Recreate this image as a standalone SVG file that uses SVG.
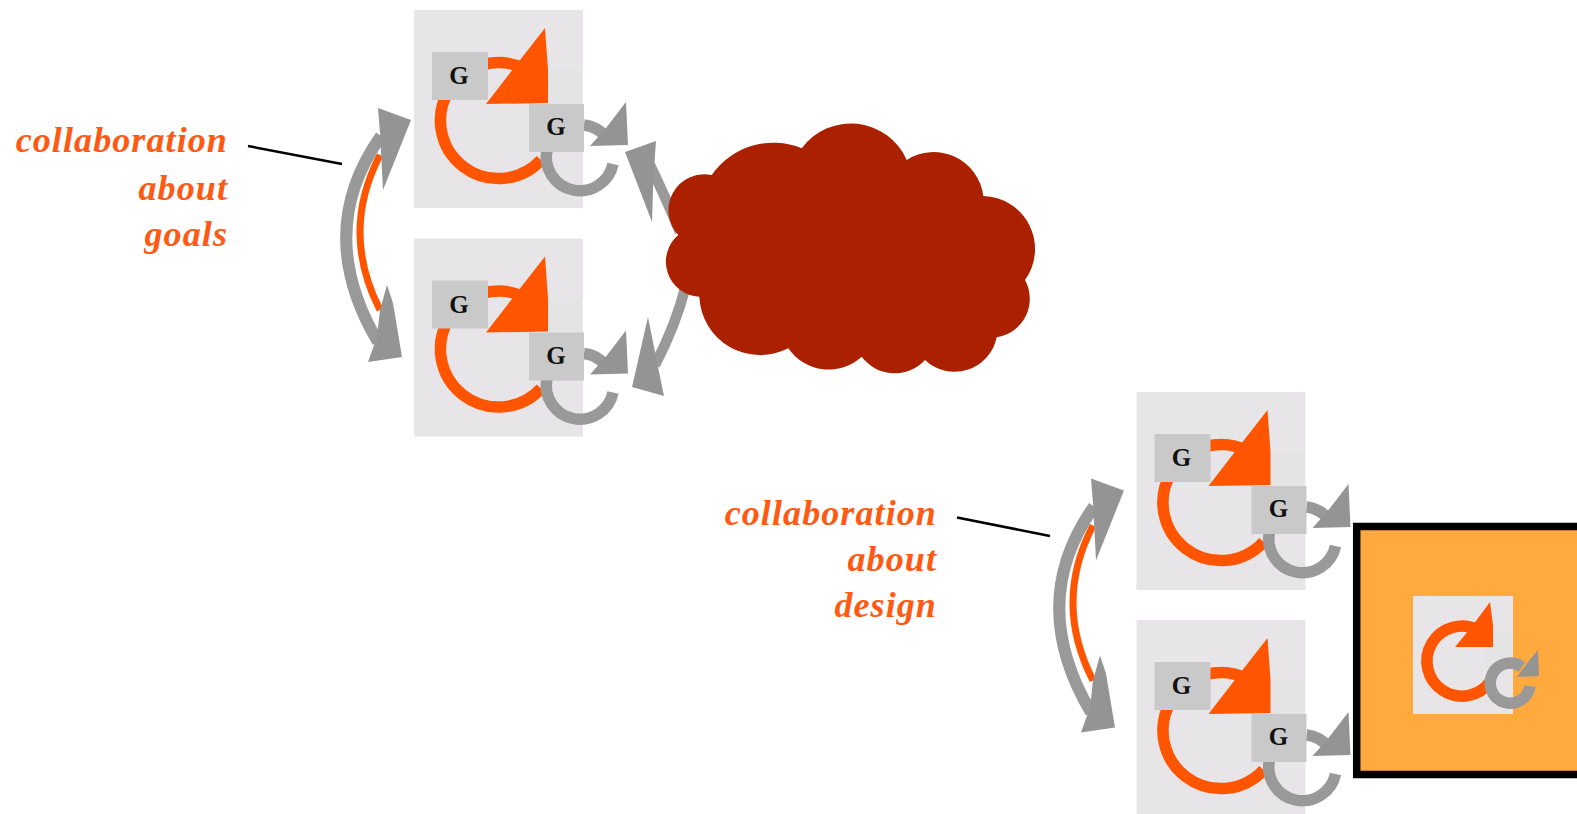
<svg xmlns="http://www.w3.org/2000/svg" width="1577" height="814" viewBox="0 0 1577 814">
<defs><style>
.panel{fill:#e8e5e9}.ghost{fill:#e4e4e4}.gbox{fill:#c9c9c9}
.oa{fill:none;stroke:#ff5500;stroke-width:11.5}.ga{fill:none;stroke:#999;stroke-width:11.5}
.oh{fill:#ff5500}.gh{fill:#949494}
.g{font:bold 25px "Liberation Serif",serif;fill:#111;text-anchor:middle}
.lab{font:italic bold 36px "Liberation Serif",serif;letter-spacing:1.1px;fill:#ff5a14;text-anchor:end}
.arc{fill:none;stroke:#999;stroke-width:12}.arc2{fill:none;stroke:#ff5500;stroke-width:7}
.arc3{fill:none;stroke:#999;stroke-width:10.5}
.ln{stroke:#000;stroke-width:2.5}
</style></defs>
<rect width="1577" height="814" fill="#fff"/>
<g id="box"><rect x="1356.7" y="526.5" width="230" height="248" fill="#ffa93e" stroke="#000" stroke-width="7.5"/></g>
<g id="connectors">
<path class="arc" d="M381 136Q313 232 378 342"/><path class="arc2" d="M380 155Q340 232 380 310"/>
<polygon class="gh" points="378,108 411,120 383,190 380,133"/><polygon class="gh" points="387,285 393,303 402,357 368,362 377,337 380,310"/>
<path class="arc3" d="M650 165Q664 194 680 232"/><path class="arc3" d="M686 285Q676 325 655 365"/>
<polygon class="gh" points="625,152 656,141 654,170 653,190 652,222"/><polygon class="gh" points="648,317 658,367 664,396 632,387"/>
<line class="ln" x1="248" y1="146" x2="342" y2="164"/>
<g transform="translate(713 370.5)">
<path class="arc" d="M381 136Q313 232 378 342"/><path class="arc2" d="M380 155Q340 232 380 310"/>
<polygon class="gh" points="378,108 411,120 383,190 380,133"/><polygon class="gh" points="387,285 393,303 402,357 368,362 377,337 380,310"/>
</g>
<line class="ln" x1="957" y1="517.5" x2="1050" y2="536"/>
</g>
<g id="cloud"><path fill="#ab2100" d="M801.7 148.3A61 61 0 0 1 906.7 160A50 50 0 0 1 983.3 196A53 53 0 0 1 1025 280A39 39 0 0 1 996.7 337.3A43 43 0 0 1 925 360A41 41 0 0 1 861.7 356.7A49 49 0 0 1 788.3 348.3A61 61 0 0 1 699.3 296.7A35 35 0 0 1 678.3 235A36 36 0 0 1 711.7 175A75 75 0 0 1 801.7 148.3Z"/></g>
<g id="node1"><rect class="panel" x="414" y="10" width="169" height="198"/><rect class="ghost" x="548" y="70" width="33" height="34"/><path class="oa" d="M541 160A58 58 0 1 1 525 69"/><polygon class="oh" points="545,28 548,70 548,103 486,104 520,60"/><rect class="gbox" x="432" y="52" width="56" height="48"/><text class="g" x="459" y="84">G</text><path class="ga" d="M547 150A33.7 33.7 0 1 0 613 164"/><path class="ga" d="M584 125A33.7 33.7 0 0 1 606 137"/><polygon class="gh" points="626,102 628,145 590,146 606,128"/><rect class="gbox" x="529" y="104" width="55" height="48"/><text class="g" x="556" y="135">G</text></g>
<g id="node2" transform="translate(0 228.5)"><rect class="panel" x="414" y="10" width="169" height="198"/><rect class="ghost" x="548" y="70" width="33" height="34"/><path class="oa" d="M541 160A58 58 0 1 1 525 69"/><polygon class="oh" points="545,28 548,70 548,103 486,104 520,60"/><rect class="gbox" x="432" y="52" width="56" height="48"/><text class="g" x="459" y="84">G</text><path class="ga" d="M547 150A33.7 33.7 0 1 0 613 164"/><path class="ga" d="M584 125A33.7 33.7 0 0 1 606 137"/><polygon class="gh" points="626,102 628,145 590,146 606,128"/><rect class="gbox" x="529" y="104" width="55" height="48"/><text class="g" x="556" y="135">G</text></g>
<g id="node3" transform="translate(722.5 382)"><rect class="panel" x="414" y="10" width="169" height="198"/><rect class="ghost" x="548" y="70" width="33" height="34"/><path class="oa" d="M541 160A58 58 0 1 1 525 69"/><polygon class="oh" points="545,28 548,70 548,103 486,104 520,60"/><rect class="gbox" x="432" y="52" width="56" height="48"/><text class="g" x="459" y="84">G</text><path class="ga" d="M547 150A33.7 33.7 0 1 0 613 164"/><path class="ga" d="M584 125A33.7 33.7 0 0 1 606 137"/><polygon class="gh" points="626,102 628,145 590,146 606,128"/><rect class="gbox" x="529" y="104" width="55" height="48"/><text class="g" x="556" y="135">G</text></g>
<g id="node4" transform="translate(722.5 610)"><rect class="panel" x="414" y="10" width="169" height="198"/><rect class="ghost" x="548" y="70" width="33" height="34"/><path class="oa" d="M541 160A58 58 0 1 1 525 69"/><polygon class="oh" points="545,28 548,70 548,103 486,104 520,60"/><rect class="gbox" x="432" y="52" width="56" height="48"/><text class="g" x="459" y="84">G</text><path class="ga" d="M547 150A33.7 33.7 0 1 0 613 164"/><path class="ga" d="M584 125A33.7 33.7 0 0 1 606 137"/><polygon class="gh" points="626,102 628,145 590,146 606,128"/><rect class="gbox" x="529" y="104" width="55" height="48"/><text class="g" x="556" y="135">G</text></g>
<g id="small">
<rect class="panel" x="1413" y="596" width="100" height="118"/><rect class="ghost" x="1486" y="632" width="26" height="36"/>
<path class="oa" d="M1490 682A35 35 0 1 1 1478 630"/><polygon class="oh" points="1490,602 1493,625 1493,647 1455,647 1473,625"/>
<path class="ga" d="M1530 686A20 20 0 1 1 1522 667"/><polygon class="gh" points="1538,650 1539,676 1517,677 1528,662"/>
</g>
<g id="label1"><text class="lab" x="228" y="152">collaboration</text><text class="lab" x="228" y="200">about</text><text class="lab" x="228" y="246">goals</text></g>
<g id="label2"><text class="lab" x="937" y="525">collaboration</text><text class="lab" x="937" y="571">about</text><text class="lab" x="937" y="617">design</text></g>
</svg>
